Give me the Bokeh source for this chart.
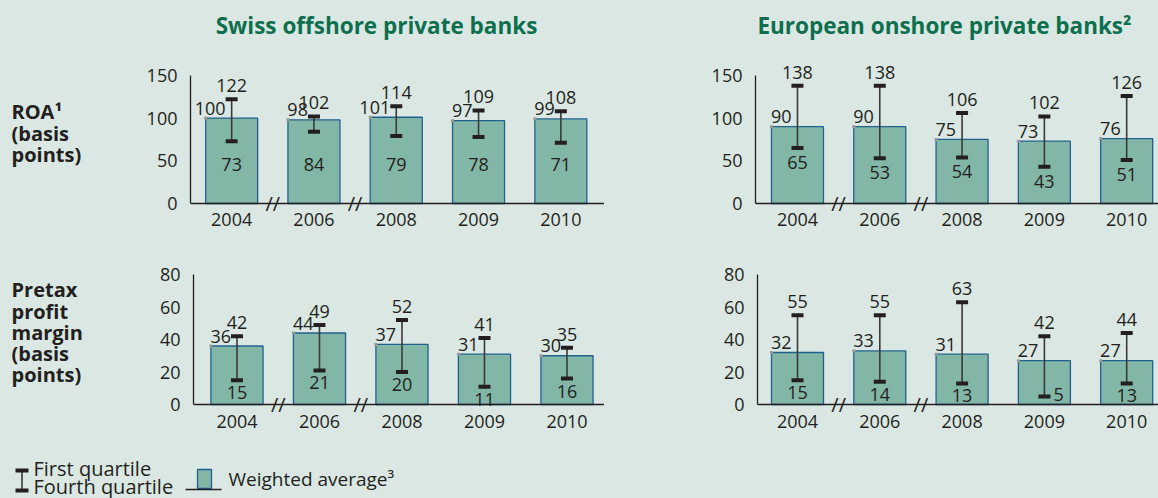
from bokeh.plotting import figure
from bokeh.layouts import column, row
from bokeh.models import Range1d, FixedTicker, ColumnDataSource, Span
from bokeh.core.properties import value
from bokeh.embed import file_html
from bokeh.resources import INLINE

# ---------------- data ----------------
years = [2004, 2006, 2008, 2009, 2010]
year_labels = ["2004", "2006", "2008", "2009", "2010"]

swiss_roa_avg = [100, 98, 101, 97, 99]
swiss_roa_q1 = [122, 102, 114, 109, 108]
swiss_roa_q4 = [73, 84, 79, 78, 71]

euro_roa_avg = [90, 90, 75, 73, 76]
euro_roa_q1 = [138, 138, 106, 102, 126]
euro_roa_q4 = [65, 53, 54, 43, 51]

swiss_pm_avg = [36, 44, 37, 31, 30]
swiss_pm_q1 = [42, 49, 52, 41, 35]
swiss_pm_q4 = [15, 21, 20, 11, 16]

euro_pm_avg = [32, 33, 31, 27, 27]
euro_pm_q1 = [55, 55, 63, 42, 44]
euro_pm_q4 = [15, 14, 13, 5, 13]

roa_ticks = [0, 50, 100, 150]
pm_ticks = [0, 20, 40, 60, 80]

titles = ["Swiss offshore private banks", "European onshore private banks\u00b2"]
roa_label = ["ROA\u00b9", "(basis", "points)"]
pm_label = ["Pretax", "profit", "margin", "(basis", "points)"]
legend_texts = ["First quartile", "Fourth quartile", "Weighted average\u00b3"]

# ---------------- style ----------------
BG = "#dae7e2"
TEXT = "#231f20"
GREEN = "#0e6f4f"
BAR = "#82b6a6"
BAR_LINE = "#22618f"
STEM = "#3a3a3a"
FONT = "Open Sans"
BW = 0.632
W = 1158
BGSTYLE = {"background-color": BG}


def base_fig(w, h, xr, yr, **kw):
    p = figure(width=w, height=h, x_range=Range1d(*xr), y_range=Range1d(*yr),
               output_backend="svg", toolbar_location=None, **kw)
    p.background_fill_color = BG
    p.border_fill_color = BG
    p.outline_line_color = None
    p.grid.visible = False
    return p


def blank_fig(w, h, bt=0, bb=0):
    # local pixel coordinates (y downwards); frame borders match the row's panels
    p = base_fig(w, h, (0, w), (h - bb, bt), x_axis_type=None, y_axis_type=None,
                 min_border=0, min_border_left=0, min_border_right=0,
                 min_border_top=bt, min_border_bottom=bb)
    return p


def panel(w, h, bl, bt, bb, xr, below_px, ppu, ticks, avg, q1, q4, standoff,
          low_fixed=None, low_px=19):
    frame_h = h - bt - bb
    y_start = -below_px / ppu
    y_end = y_start + frame_h / ppu
    p = base_fig(w, h, xr, (y_start, y_end), min_border_left=bl, min_border_right=0,
                 min_border_top=bt, min_border_bottom=bb)
    n = len(years)
    xs = list(range(n))
    low_y, low_dx, low_dy, low_align = [], [], [], []
    for v in q4:
        if low_fixed is not None:
            low_y.append(low_fixed); low_dx.append(0); low_dy.append(-6.5); low_align.append("center")
        elif v * ppu < 12:
            low_y.append(v); low_dx.append(9); low_dy.append(-1.5); low_align.append("left")
        else:
            low_y.append(v); low_dx.append(0); low_dy.append(low_px - 6.5); low_align.append("center")
    src = ColumnDataSource(dict(
        x=xs, avg=avg, q1=q1, q4=q4,
        xl=[i - BW / 2 for i in xs],
        avg_t=[str(v) for v in avg], q1_t=[str(v) for v in q1], q4_t=[str(v) for v in q4],
        low_y=low_y, low_dx=low_dx, low_dy=low_dy, low_align=low_align,
    ))
    # baseline (x axis line) at zero
    p.add_layout(Span(location=0, dimension="width", line_color=TEXT, line_width=1.3))
    p.vbar(x="x", top="avg", bottom=0, width=BW, fill_color=BAR, line_color=BAR_LINE,
           line_width=1.3, source=src)
    p.scatter(x="xl", y="avg", marker="square", size=3, fill_color="#9a9a9a",
              line_color=None, source=src)
    p.segment(x0="x", y0="q4", x1="x", y1="q1", line_color=STEM, line_width=1.6, source=src)
    for col in ("q1", "q4"):
        p.rect(x="x", y=col, width=12, height=4, width_units="screen", height_units="screen",
               fill_color=TEXT, line_color=None, source=src)
    common = dict(text_font=value(FONT), text_font_size="18px", text_color=TEXT, source=src)
    p.text(x="x", y="q1", text="q1_t", text_align="center", text_baseline="middle",
           y_offset=-13.5, **common)
    p.text(x="x", y="avg", text="avg_t", text_align="right", text_baseline="middle",
           x_offset=-6, y_offset=-10, **common)
    p.text(x="x", y="low_y", text="q4_t", text_align="low_align", text_baseline="middle",
           x_offset="low_dx", y_offset="low_dy", **common)
    # axis breaks where years are not consecutive
    bx = [i + 0.5 for i in range(n - 1) if years[i + 1] - years[i] > 1]
    p.text(x=bx, y=[0] * len(bx), text=["//"] * len(bx), text_align="center",
           text_baseline="middle", text_font=value(FONT), text_font_size="20px",
           text_color=TEXT)
    # axes
    p.xaxis.ticker = FixedTicker(ticks=xs)
    p.xaxis.major_label_overrides = {i: year_labels[i] for i in xs}
    p.xaxis.axis_line_color = None
    p.yaxis.ticker = FixedTicker(ticks=ticks)
    p.yaxis.bounds = (0, ticks[-1])
    p.yaxis.axis_line_color = TEXT
    p.yaxis.axis_line_width = 1.3
    for ax in (p.xaxis, p.yaxis):
        ax.major_tick_out = 0
        ax.major_tick_in = 0
        ax.minor_tick_out = 0
        ax.minor_tick_in = 0
        ax.major_label_text_font = FONT
        ax.major_label_text_font_size = "18px"
        ax.major_label_text_color = TEXT
    p.xaxis.major_label_standoff = standoff
    p.yaxis.major_label_standoff = 13
    return p


# ---------------- top row (y 45..240), axis at y=203 ----------------
TOP_H = 195
t_bt, t_bb = 5, 29          # frame 50..211, axis 8 px above frame bottom
t_ppu = 0.854

tl = panel(474, TOP_H, 60, t_bt, t_bb, (-0.5, -0.5 + 414 / 82.3), 8, t_ppu, roa_ticks,
           swiss_roa_avg, swiss_roa_q1, swiss_roa_q4, 1, low_fixed=38)
tr = panel(554, TOP_H, 151, t_bt, t_bb, (-0.51, -0.51 + 403 / 82.3), 8, t_ppu, roa_ticks,
           euro_roa_avg, euro_roa_q1, euro_roa_q4, 1, low_px=21)

# ---------------- bottom row (y 240..442), axis at y=404 ----------------
BOT_H = 202
b_bt, b_bb = 22, 30         # frame 262..412, axis 8 px above frame bottom
b_ppu = 1.625

bl = panel(474, BOT_H, 63, b_bt, b_bb, (-0.527, -0.527 + 411 / 82.5), 8, b_ppu, pm_ticks,
           swiss_pm_avg, swiss_pm_q1, swiss_pm_q4, 2, low_px=19)
br = panel(554, BOT_H, 153, b_bt, b_bb, (-0.486, -0.486 + 401 / 82.3), 8, b_ppu, pm_ticks,
           euro_pm_avg, euro_pm_q1, euro_pm_q4, 2, low_px=19)

# ---------------- header ----------------
hdr = blank_fig(W, 45)
hdr.text(x=[376, 944], y=[25, 25], text=titles, text_align="center", text_baseline="middle",
         text_font=value(FONT), text_font_size="22.5px", text_font_style="bold", text_color=GREEN)

# ---------------- row labels ----------------
lab_t = blank_fig(130, TOP_H, t_bt, t_bb)
lab_t.text(x=[11] * 3, y=[66, 87.5, 109], text=roa_label, text_baseline="middle",
           text_font=value(FONT), text_font_size="20px", text_font_style="bold", text_color=TEXT)
lab_b = blank_fig(130, BOT_H, b_bt, b_bb)
lab_b.text(x=[11] * 5, y=[49, 70.5, 92, 113, 134], text=pm_label, text_baseline="middle",
           text_font=value(FONT), text_font_size="20px", text_font_style="bold", text_color=TEXT)

# ---------------- legend footer (y 442..498) ----------------
ft = blank_fig(W, 56)
ft.segment(x0=[21.5], y0=[28], x1=[21.5], y1=[48], line_color=STEM, line_width=1.6)
ft.rect(x=[21.5, 21.5], y=[28, 48], width=13, height=4, fill_color=TEXT, line_color=None)
ft.quad(left=[197], right=[211], top=[27], bottom=[46], fill_color=BAR, line_color=BAR_LINE,
        line_width=1.3)
ft.segment(x0=[185], y0=[47], x1=[221], y1=[47], line_color=TEXT, line_width=1.3)
ft.text(x=[33, 33], y=[26, 43.5], text=legend_texts[:2], text_baseline="middle",
        text_font=value(FONT), text_font_size="20px", text_color=TEXT)
ft.text(x=[228], y=[36], text=legend_texts[2:], text_baseline="middle",
        text_font=value(FONT), text_font_size="19px", text_color=TEXT)

layout = column(hdr,
                row(lab_t, tl, tr, styles=BGSTYLE),
                row(lab_b, bl, br, styles=BGSTYLE),
                ft, styles=BGSTYLE)

open("out.html", "w").write(file_html(layout, INLINE))
